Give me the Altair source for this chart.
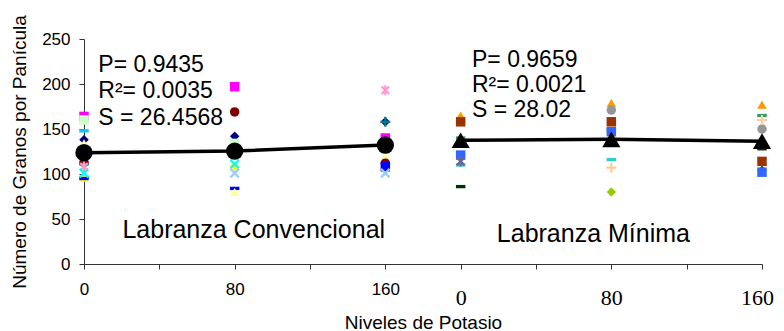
import altair as alt
import pandas as pd

# ---------------- data ----------------
# x slots: 0,2,4 = Labranza Convencional (0, 80, 160); 5,7,9 = Labranza Mínima (0, 80, 160)
tick_pos = [0, 2, 4, 5, 7, 9]
tick_labels = ["0", "80", "160", "0", "80", "160"]
y_ticks = [0, 50, 100, 150, 200, 250]

# means (black line + large markers)
cl_x = [0, 2, 4]
cl_mean = [123.7, 125.5, 132.2]
lm_x = [5, 7, 9]
lm_mean = [137.5, 138.5, 136.5]

# observations per level (series id, value)
cl0_series = ["S2", "S10", "S9", "S1", "S11", "S6", "S7", "S13", "S4", "S3", "S8"]
cl0_values = [164, 160, 148, 138, 134, 113, 111, 108, 101, 96, 95]

cl80_series = ["S2", "S6", "S1", "S10", "S4", "S14", "S12", "S8", "S11"]
cl80_values = [197, 169, 142, 134, 111, 109, 101, 84, 80]

cl160_series = ["S13", "S1", "S7", "S2", "S9", "S11", "S6", "S15", "S12"]
cl160_values = [193, 158, 158, 140, 125, 119, 112, 108, 101]

lm0_series = ["M1", "M2", "M4", "M8", "M9", "M7", "M6"]
lm0_values = [165, 158, 140, 121, 114, 110, 86]

lm80_series = ["M1", "M3", "M2", "M4", "M8", "M11", "M7", "M5", "M10"]
lm80_values = [179, 171, 158, 149, 147, 135, 116, 107, 80]

lm160_series = ["M1", "M4", "M5", "M3", "M7", "M6", "M2", "M11", "M8"]
lm160_values = [177, 165, 160, 150, 135, 128, 114, 104, 102]

# series styles
series_names = ["S1", "S2", "S3", "S4", "S6", "S7", "S8", "S9", "S10", "S11", "S12", "S13", "S14", "S15",
                "M1", "M2", "M3", "M4", "M5", "M6", "M7", "M8", "M9", "M10", "M11"]
series_colors = ["#000080", "#FF00FF", "#FFFF00", "#00FFFF", "#800000", "#008080", "#0000FF", "#00CCFF",
                 "#CCFFCC", "#FFFF99", "#99CCFF", "#FF99CC", "#FFFF00", "#0000FF",
                 "#FF9900", "#993300", "#969696", "#339966", "#FFCC99", "#003300", "#33CCCC", "#3366FF",
                 "#666699", "#99CC00", "#333300"]
DASH = "M-1,-0.35H1V0.35H-1Z"
XSH = "M-0.85,-0.85L0.85,0.85M-0.85,0.85L0.85,-0.85"
AST = "M-0.75,-0.75L0.75,0.75M-0.75,0.75L0.75,-0.75M0,-1L0,1"
PLUS = "M-1,0L1,0M0,-1L0,1"
series_shapes = ["diamond", "square", "triangle-up", XSH, "circle", PLUS, DASH, DASH,
                 "square", "triangle-up", XSH, AST, "diamond", "square",
                 "triangle-up", "square", "circle", DASH, PLUS, DASH, DASH, "square",
                 AST, "diamond", "diamond"]
stroked_series = ["S4", "S7", "S12", "S13", "M5", "M9"]
filled_series = [s for s in series_names if s not in stroked_series]

stats_cl = ["P= 0.9435", "R²= 0.0035", "S = 26.4568"]
stats_lm = ["P= 0.9659", "R²= 0.0021", "S = 28.02"]
group_names = ["Labranza Convencional", "Labranza Mínima"]

# ---------------- tables ----------------
rows = []
for x, ser, vals in [(0, cl0_series, cl0_values), (2, cl80_series, cl80_values),
                     (4, cl160_series, cl160_values), (5, lm0_series, lm0_values),
                     (7, lm80_series, lm80_values), (9, lm160_series, lm160_values)]:
    for s, v in zip(ser, vals):
        rows.append({"x": x, "serie": s, "valor": v})
obs = pd.DataFrame(rows)

means = pd.DataFrame(
    [{"x": x, "valor": v, "grupo": "CL"} for x, v in zip(cl_x, cl_mean)]
    + [{"x": x, "valor": v, "grupo": "LM"} for x, v in zip(lm_x, lm_mean)]
)

stats_df = pd.DataFrame(
    [{"x": 0.19, "valor": y, "t": t} for y, t in zip([213, 184, 154.4], stats_cl)]
    + [{"x": 5.15, "valor": y, "t": t} for y, t in zip([219, 191.4, 163.3], stats_lm)]
)
groups_df = pd.DataFrame([
    {"x": 0.51, "valor": 29.2, "t": group_names[0]},
    {"x": 5.48, "valor": 24.4, "t": group_names[1]},
])

# ---------------- encodings ----------------
label_expr = ""
for p, l in zip(tick_pos, tick_labels):
    label_expr += f"datum.value == {p} ? '{l}' : "
label_expr += "''"

SANS = "Liberation Sans"
SERIF = "Liberation Serif"

x_axis = alt.Axis(
    values=list(range(10)), labelExpr=label_expr, labelOverlap=False, labelFlush=False, labelBound=False,
    labelFont={"condition": {"test": "datum.value >= 5", "value": SERIF}, "value": SANS},
    labelFontSize={"condition": {"test": "datum.value >= 5", "value": 22}, "value": 17},
    labelPadding={"condition": {"test": "datum.value >= 5", "value": 18}, "value": 12},
    labelOffset={"condition": {"test": "datum.value == 9", "value": -5}, "value": 0},
    labelColor="black", tickSize=5, tickColor="#333333", domainColor="#333333", grid=False,
    title="Niveles de Potasio", titleFont=SANS, titleFontSize=19, titleFontWeight="normal",
    titleColor="black", titleX=339, titleY=64, titleBaseline="alphabetic", titleAlign="center",
)
y_axis = alt.Axis(
    values=y_ticks, labelFont=SANS, labelFontSize=17, labelColor="black", labelPadding=9,
    tickSize=5, tickColor="#333333", domainColor="#333333", grid=False,
    title="Número de Granos por Panícula", titleFont=SANS, titleFontSize=19, titleFontWeight="normal",
    titleColor="black", titleAngle=-90, titleX=-65, titleY=112.5, titleBaseline="middle", titleAlign="center",
)

xs = alt.Scale(domain=[0, 9], nice=False, zero=False)
ys = alt.Scale(domain=[0, 250], nice=False)

X = alt.X("x:Q", scale=xs, axis=x_axis)
Y = alt.Y("valor:Q", scale=ys, axis=y_axis)
Xn = alt.X("x:Q", scale=xs)
Yn = alt.Y("valor:Q", scale=ys)

color = alt.Color("serie:N", scale=alt.Scale(domain=series_names, range=series_colors), legend=None)
shape = alt.Shape("serie:N", scale=alt.Scale(domain=series_names, range=series_shapes), legend=None)

filled = alt.Chart(obs).transform_filter(
    alt.FieldOneOfPredicate(field="serie", oneOf=filled_series)
).mark_point(filled=True, size=90, opacity=1, strokeWidth=0).encode(x=X, y=Y, color=color, shape=shape)

stroked = alt.Chart(obs).transform_filter(
    alt.FieldOneOfPredicate(field="serie", oneOf=stroked_series)
).mark_point(filled=False, size=100, opacity=1, strokeWidth=2.2).encode(x=Xn, y=Yn, color=color, shape=shape)

line = alt.Chart(means).mark_line(color="black", strokeWidth=3.5).encode(x=Xn, y=Yn, detail="grupo:N")

cl_pts = alt.Chart(means).transform_filter(alt.datum.grupo == "CL").mark_point(
    shape="circle", filled=True, color="black", size=300, opacity=1).encode(x=Xn, y=Yn)
lm_pts = alt.Chart(means).transform_filter(alt.datum.grupo == "LM").mark_point(
    shape="triangle-up", filled=True, color="black", size=330, opacity=1).encode(x=Xn, y=Yn)

stats = alt.Chart(stats_df).mark_text(
    align="left", baseline="alphabetic", font=SANS, fontSize=23, color="black").encode(x=Xn, y=Yn, text="t:N")
groups = alt.Chart(groups_df).mark_text(
    align="left", baseline="alphabetic", font=SANS, fontSize=25, color="black").encode(x=Xn, y=Yn, text="t:N")

chart = alt.layer(filled, stroked, line, cl_pts, lm_pts, stats, groups).properties(
    width=678, height=225,
    autosize=alt.AutoSizeParams(type="none"),
    padding={"left": 76, "top": 31, "right": 12, "bottom": 72},
).configure_view(stroke=None)

chart.save("out.html", embed_options={"renderer": "svg", "actions": False})
